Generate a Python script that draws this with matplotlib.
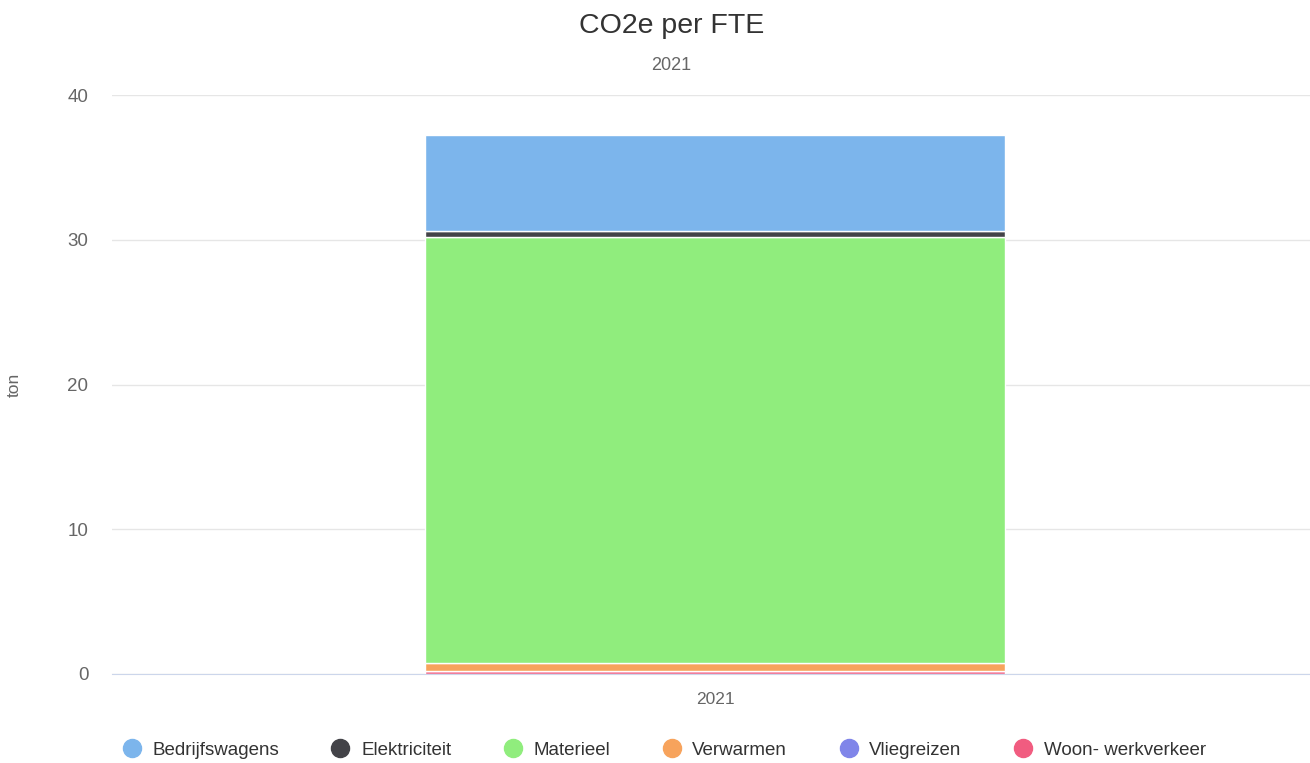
import matplotlib.pyplot as plt
from matplotlib.lines import Line2D

plt.rcParams['font.family'] = ['Liberation Sans', 'DejaVu Sans']

# data (ton CO2e per FTE, 2021)
years = ['2021']
series_names = ['Bedrijfswagens', 'Elektriciteit', 'Materieel', 'Verwarmen', 'Vliegreizen', 'Woon- werkverkeer']
series_values = [6.65, 0.4, 29.4, 0.55, 0.02, 0.22]
series_colors = ['#7cb5ec', '#434348', '#90ed7d', '#f7a35c', '#8085e9', '#f15c80']
y_ticks = [0, 10, 20, 30, 40]

fig = plt.figure(figsize=(13.1, 7.63), dpi=100)
ax = fig.add_axes([112 / 1310, 1 - 674 / 763, 1 - 112 / 1310, (674 - 95) / 763])

# Highcharts stacks the first series on top, so draw from the last one up
x = list(range(len(years)))
bottom = [0.0] * len(years)
for name, val, col in reversed(list(zip(series_names, series_values, series_colors))):
    ax.bar(x, [val], bottom=bottom, width=0.484, color=col, edgecolor='white',
           linewidth=1, zorder=3)
    bottom = [b + val for b in bottom]

ax.set_xlim(-0.5035, 0.4965)
ax.set_ylim(0, 40)
ax.set_yticks(y_ticks)
ax.set_xticks(x)
ax.set_xticklabels(years)
ax.tick_params(axis='y', length=0, labelsize=13.5, labelcolor='#666666', pad=17)
ax.tick_params(axis='x', length=0, labelsize=12.5, labelcolor='#666666', pad=13)
ax.grid(axis='y', color='#e6e6e6', linewidth=1, zorder=0)
for side in ['top', 'right', 'left']:
    ax.spines[side].set_visible(False)
ax.spines['bottom'].set_color('#ccd6eb')
ax.spines['bottom'].set_zorder(4)
ax.set_ylabel('ton', fontsize=12.5, color='#666666', labelpad=33)

fig.text(672 / 1310, 1 - 26 / 763, 'CO2e per FTE', ha='center', va='center',
         fontsize=20.5, color='#333333')
fig.text(671 / 1310, 1 - 65.5 / 763, '2021', ha='center', va='center',
         fontsize=13, color='#666666')

handles = [Line2D([], [], marker='o', linestyle='', markersize=13, color=c)
           for c in series_colors]
fig.legend(handles, series_names, loc='center', bbox_to_anchor=(664 / 1310, 1 - 750 / 763),
           ncol=6, frameon=False, fontsize=13.5, handletextpad=0.6, columnspacing=2.78,
           handlelength=1.0, labelcolor='#333333')

fig.savefig('out.png', dpi=100)
